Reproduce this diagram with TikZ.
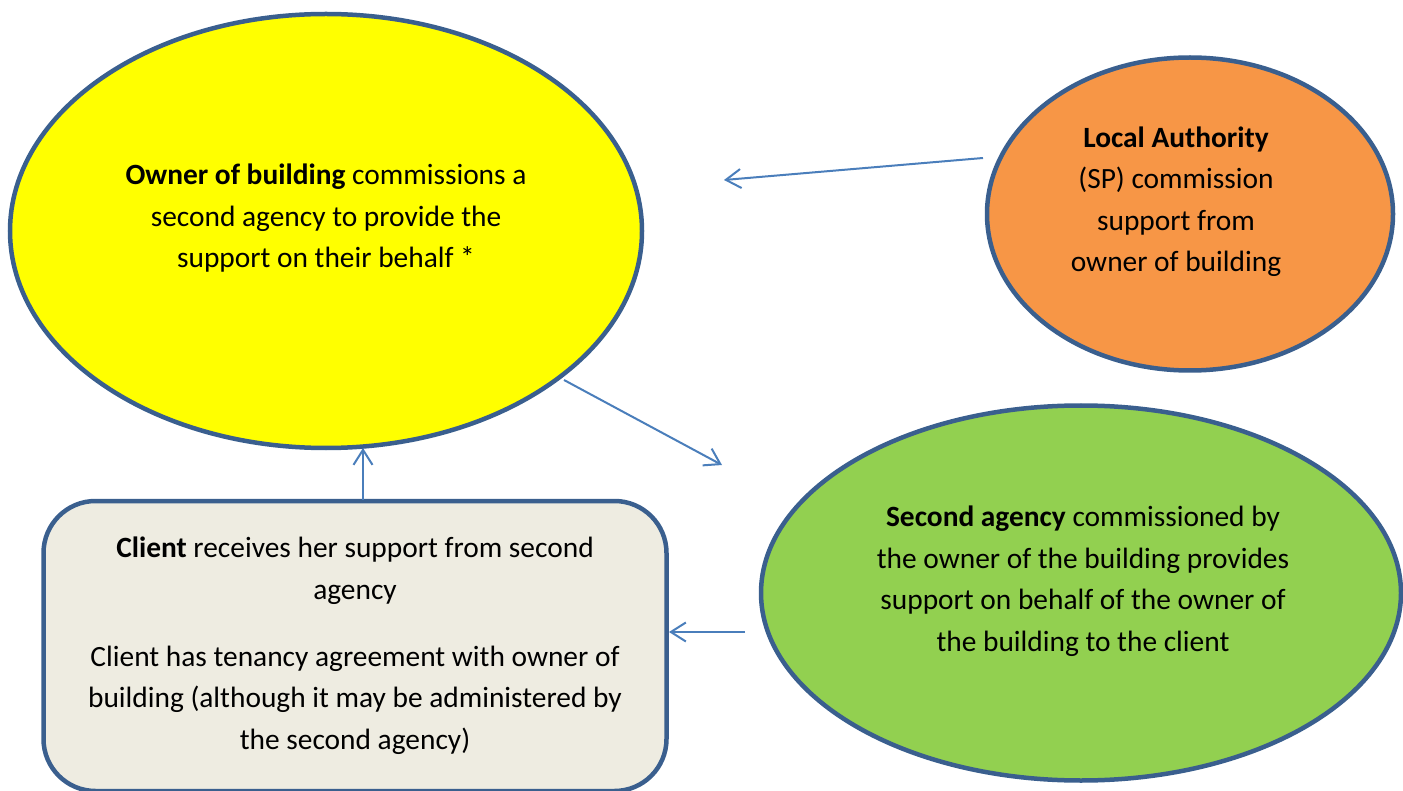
\documentclass[tikz,border=0pt]{standalone}
\usepackage{fontspec}
\setmainfont{Carlito}
\usetikzlibrary{shapes.geometric,arrows.meta}
\definecolor{outline}{HTML}{3A5F8E}
\definecolor{arrowc}{HTML}{4A7EBB}
\definecolor{yel}{HTML}{FFFF00}
\definecolor{ora}{HTML}{F79646}
\definecolor{gre}{HTML}{92D050}
\definecolor{boxc}{HTML}{EEECE1}
\tikzset{
  shapebase/.style={draw=outline, line width=4.5pt, inner sep=0pt},
  oval/.style={shapebase, ellipse},
  card/.style={shapebase, rectangle, rounded corners=52pt},
  txt/.style={align=center, font=\fontsize{29.4}{41.5}\selectfont, inner sep=0pt},
  conn/.style={draw=arrowc, line width=2pt, -{Straight Barb[length=15pt,width=19pt,line width=2pt]}},
}
\begin{document}
\begin{tikzpicture}[x=1pt,y=-1pt]
\useasboundingbox (0,0) rectangle (1403,791);
\node[oval, fill=yel, minimum width=632pt, minimum height=434pt] (owner) at (326,231) {};
\node[oval, fill=ora, minimum width=406pt, minimum height=313pt] (la) at (1190,214) {};
\node[oval, fill=gre, minimum width=640pt, minimum height=375pt] (second) at (1081,593) {};
\node[card, fill=boxc, minimum width=623pt, minimum height=290pt] (client) at (355,646) {};
\node[txt] (ownertxt) at (326,218.5) {\textbf{Owner of building} commissions a\\second agency to provide the\\support on their behalf *};
\node[txt] (latxt) at (1176,201.5) {\textbf{Local Authority}\\(SP) commission\\support from\\owner of building};
\node[txt] (secondtxt) at (1083,581) {\textbf{Second agency} commissioned by\\the owner of the building provides\\support on behalf of the owner of\\the building to the client};
\node[txt] (clienttxt1) at (355,570.5) {\textbf{Client} receives her support from second\\agency};
\node[txt] (clienttxt2) at (355,700) {Client has tenancy agreement with owner of\\building (although it may be administered by\\the second agency)};
\coordinate (a1s) at (983,158);
\coordinate (a1e) at (724,180);
\coordinate (a2s) at (564,380);
\coordinate (a2e) at (722,465);
\coordinate (a3s) at (363,500);
\coordinate (a3e) at (363,448);
\coordinate (a4s) at (745,632);
\coordinate (a4e) at (669,632);
\draw[conn] (a1s) -- (a1e);
\draw[conn] (a2s) -- (a2e);
\draw[conn] (a3s) -- (a3e);
\draw[conn] (a4s) -- (a4e);
\end{tikzpicture}
\end{document}
